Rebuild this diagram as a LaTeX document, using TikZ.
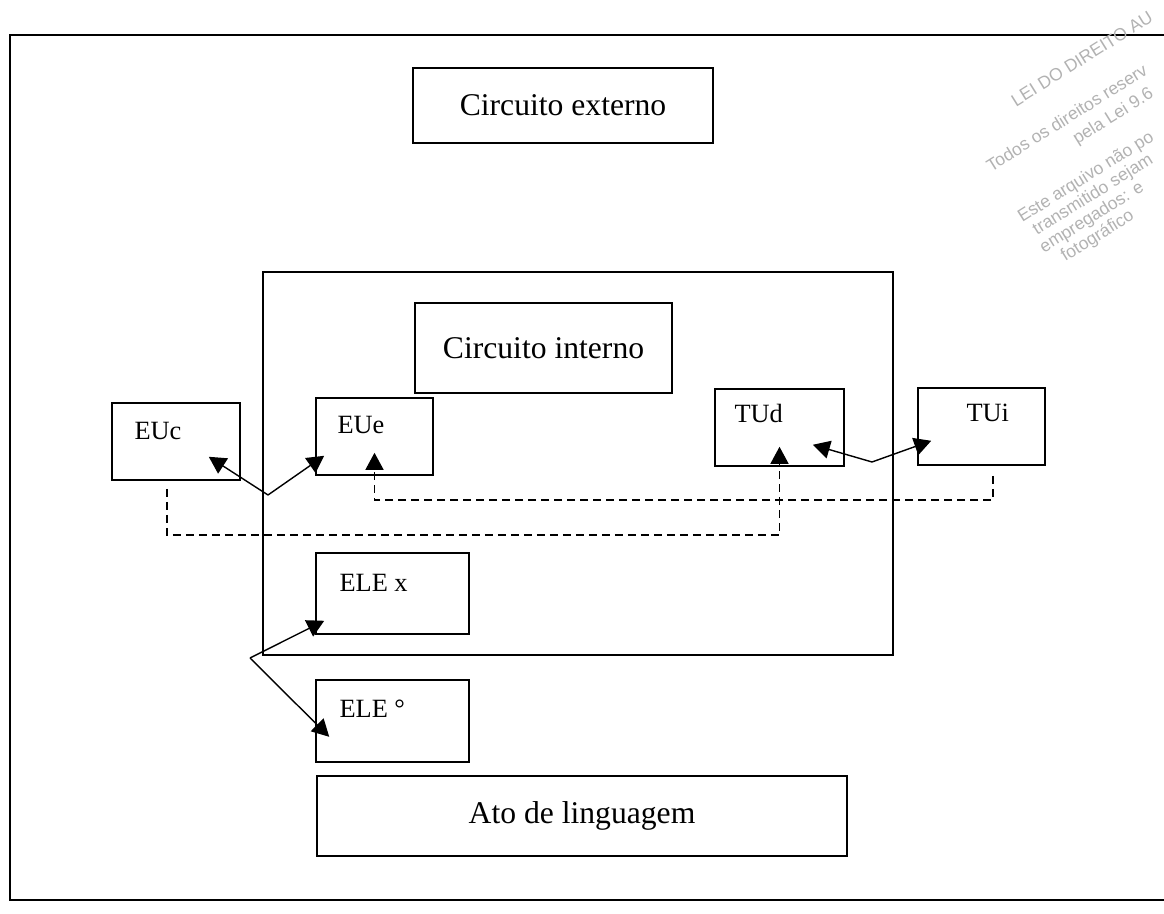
\documentclass[tikz,border=0pt]{standalone}
\usepackage{fontspec}
\setmainfont{Liberation Serif}
\setsansfont{Liberation Sans}
\usetikzlibrary{positioning,arrows.meta,calc}
\tikzset{
    % Title boxes
    titlebox/.style={
        draw=black,
        line width=0.9pt,
        inner sep=0pt,
        font=\fontsize{18}{20}\selectfont
    },
    % Small element boxes
    unitbox/.style={
        draw=black,
        line width=0.9pt,
        inner sep=0pt
    },
    % Box labels
    unitlabel/.style={
        anchor=north west,
        inner sep=0pt,
        font=\fontsize{15}{17}\selectfont
    },
    % Large container
    container/.style={
        draw=black,
        line width=0.9pt,
        inner sep=0pt
    },
    % Arrows
    link/.style={
        -{Triangle[length=3.4mm,width=3.6mm]},
        line width=0.8pt
    },
    dashlink/.style={
        -{Triangle[length=3.4mm,width=3.6mm]},
        line width=0.8pt,
        dash pattern=on 1.6mm off 1mm
    },
    % Watermark
    watermark/.style={
        anchor=north west,
        align=left,
        inner sep=0pt,
        rotate=32,
        text=black!30
    }
}

\begin{document}
\begin{tikzpicture}[x=0.2mm, y=-0.2mm]

\useasboundingbox (0,0) rectangle (1164,914);

% === OUTER FRAME ===
\draw[line width=0.9pt] (1164,35) -| (10,900) -- (1164,900);

% === WATERMARK ===
\node[watermark, font=\sffamily\fontsize{10}{12.8}\selectfont] (wmtop) at (962,126) {%
    \hspace*{11.1mm}LEI DO DIREITO AU\\[3.9mm]
    Todos os direitos reserv\\
    \hspace*{17.5mm}pela Lei 9.6};
\node[watermark, font=\sffamily\fontsize{10}{10.6}\selectfont] (wmbottom) at (1015,212) {%
    Este arquivo não po\\
    \hspace*{1.2mm}transmitido sejam\\
    \hspace*{0.5mm}empregados: e\\
    \hspace*{3.2mm}fotográfico};

% === TITLES ===
\node[titlebox, minimum width=60mm, minimum height=15mm] (extern) at (563,105.5) {Circuito externo};

\node[container, minimum width=126mm, minimum height=76.6mm] (inner) at (578,463.5) {};

\node[titlebox, minimum width=51.4mm, minimum height=18mm] (intern) at (543.5,348) {Circuito interno};

% === UNITS ===
\node[unitbox, minimum width=25.6mm, minimum height=15.4mm] (euc) at (176,441.5) {};
\node[unitbox, minimum width=23.4mm, minimum height=15.4mm] (eue) at (374.5,436.5) {};
\node[unitbox, minimum width=25.8mm, minimum height=15.4mm] (tud) at (779.5,427.5) {};
\node[unitbox, minimum width=25.4mm, minimum height=15.4mm] (tui) at (981.5,426.5) {};

\node[unitlabel, below right=4mm and 4.6mm of euc.north west] (euc-text) {EUc};
\node[unitlabel, below right=3.8mm and 4.4mm of eue.north west] (eue-text) {EUe};
\node[unitlabel, below right=3.2mm and 4mm of tud.north west] (tud-text) {TUd};
\node[unitlabel, below right=3.2mm and 9.8mm of tui.north west] (tui-text) {TUi};

% Row of ELE boxes
\node[unitbox, minimum width=30.6mm, minimum height=16.2mm] (elex) at (392.5,593.5) {};
\node[unitbox, minimum width=30.6mm, minimum height=16.4mm] (eleo) at (392.5,721) {};

\node[unitlabel, below right=4.4mm and 4.8mm of elex.north west] (elex-text) {ELE x};
\node[unitlabel, below right=4mm and 4.8mm of eleo.north west] (eleo-text) {ELE °};

\node[titlebox, minimum width=106mm, minimum height=16mm] (ato) at (582,816) {Ato de linguagem};

% === ARROWS ===
\coordinate (jleft) at (268,495);
\coordinate (jright) at (872,462);
\coordinate (jlow) at (250,658);

\draw[link] (jleft) -- ($(euc.south east)+(-32,-24)$);
\draw[link] (jleft) -- ($(eue.south west)+(9,-20)$);

\draw[link] (jright) -- ($(tud.south east)+(-32,-22)$);
\draw[link] (jright) -- ($(tui.south west)+(14,-25)$);

\draw[link] (jlow) -- ($(elex.south west)+(9,-14)$);
\draw[link] (jlow) -- ($(eleo.south west)+(14,-26)$);

% Dashed return paths
\coordinate (lowbus) at (0,535);
\coordinate (highbus) at (0,500);

\draw[dashlink] ($(euc.south)+(-9,8)$) |- (lowbus -| tud) -- ([yshift=4mm]tud.south);
\draw[dashlink] ($(tui.south)+(11.5,10)$) |- (highbus -| eue) -- ([yshift=4.6mm]eue.south);

\end{tikzpicture}
\end{document}
